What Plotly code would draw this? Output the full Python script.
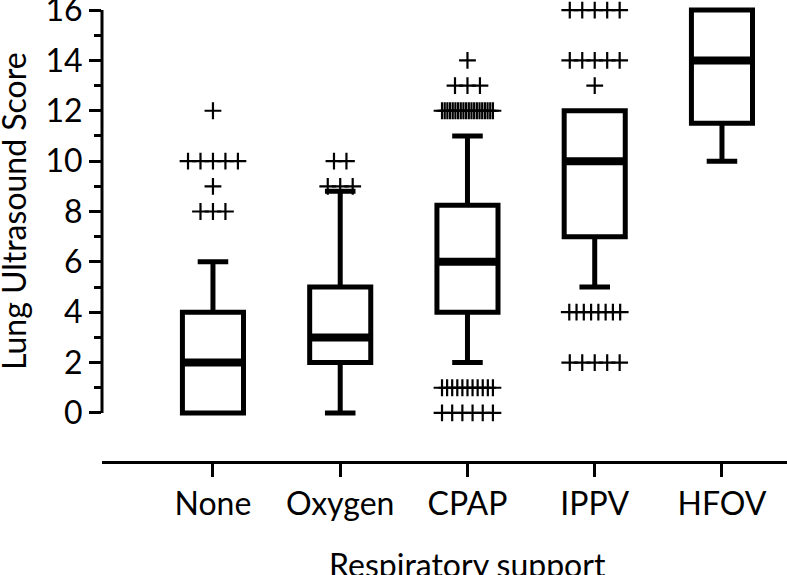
import plotly.graph_objects as go

categories = ["None", "Oxygen", "CPAP", "IPPV", "HFOV"]
q1 = [0, 2, 4, 7, 11.5]
median = [2, 3, 6, 10, 14]
q3 = [4, 5, 8.25, 12, 16]
lower_whisker = [0, 0, 2, 5, 10]
upper_whisker = [6, 8.8, 11, 12, 16]

# outliers: (value, number of points) per category
outlier_values = [
    [12, 10, 9, 8],
    [10, 9],
    [14, 13, 12, 1, 0],
    [16, 14, 13, 4, 2],
    [],
]
outlier_counts = [
    [1, 5, 1, 3],
    [2, 3],
    [1, 3, 20, 11, 6],
    [5, 5, 1, 8, 5],
    [],
]

y_ticks = [0, 2, 4, 6, 8, 10, 12, 14, 16]

FONT = "Lato"
FS = 32
pos = list(range(len(categories)))

fig = go.Figure()
fig.add_trace(go.Box(
    x=pos, q1=q1, median=median, q3=q3,
    lowerfence=lower_whisker, upperfence=upper_whisker,
    width=0.48, whiskerwidth=0.5,
    line=dict(color="black", width=5), fillcolor="white",
    boxpoints=False, showlegend=False, hoverinfo="skip",
))
# thick median bars
fig.add_trace(go.Box(
    x=pos, q1=median, median=median, q3=median,
    lowerfence=median, upperfence=median,
    width=0.48, whiskerwidth=0,
    line=dict(color="black", width=8), fillcolor="black",
    boxpoints=False, showlegend=False, hoverinfo="skip",
))

# spread outliers horizontally like the original scatter
s0, W = 0.098, 0.40
ox, oy = [], []
for i, (vals, cnts) in enumerate(zip(outlier_values, outlier_counts)):
    for v, n in zip(vals, cnts):
        if n == 1:
            ox.append(i); oy.append(v)
            continue
        span = min(s0 * (n - 1), W)
        for k in range(n):
            ox.append(i - span / 2 + k * span / (n - 1))
            oy.append(v)
fig.add_trace(go.Scatter(
    x=ox, y=oy, mode="markers", cliponaxis=False,
    marker=dict(symbol="cross-thin", size=12, line=dict(color="black", width=2.2)),
    showlegend=False, hoverinfo="skip",
))

fig.update_layout(
    width=787, height=575,
    margin=dict(l=102, r=0, t=5, b=113),
    paper_bgcolor="white", plot_bgcolor="white",
    font=dict(family=FONT, size=FS, color="black"),
    xaxis=dict(
        range=[-0.872, 4.511], tickmode="array", tickvals=pos, ticktext=categories,
        showline=True, linewidth=3, linecolor="black",
        ticks="outside", ticklen=13, tickwidth=3, tickcolor="black",
        showgrid=False, zeroline=False, anchor="free", position=0,
        automargin=False,
        tickfont=dict(family=FONT, size=FS),
    ),
    yaxis=dict(
        range=[-0.2, 16.2], domain=[0.0963, 1], tickmode="array", tickvals=y_ticks,
        showline=False, ticks="outside", ticklen=12, tickwidth=3, tickcolor="black",
        minor=dict(tickmode="array", tickvals=[1, 3, 5, 7, 9, 11, 13, 15],
                   ticks="outside", ticklen=7, tickwidth=3, tickcolor="black"),
        showgrid=False, zeroline=False, automargin=False,
        ticklabeloverflow="allow",
        tickfont=dict(family=FONT, size=FS),
    ),
    shapes=[dict(type="line", xref="paper", x0=0, x1=0, yref="y", y0=0, y1=16,
                 line=dict(color="black", width=3))],
    annotations=[
        dict(text="Lung Ultrasound Score", xref="paper", yref="paper",
             x=-0.130, y=0.549, textangle=-90, showarrow=False,
             xanchor="center", yanchor="middle", font=dict(family=FONT, size=FS)),
        dict(text="Respiratory support", xref="x", yref="paper",
             x=2, y=-0.224, showarrow=False,
             xanchor="center", yanchor="middle", font=dict(family=FONT, size=FS)),
    ],
)

fig.write_html(
    "out.html",
    config={"displayModeBar": False},
    post_script="document.body.style.margin='0px';"
                "document.documentElement.style.overflow='hidden';",
)
